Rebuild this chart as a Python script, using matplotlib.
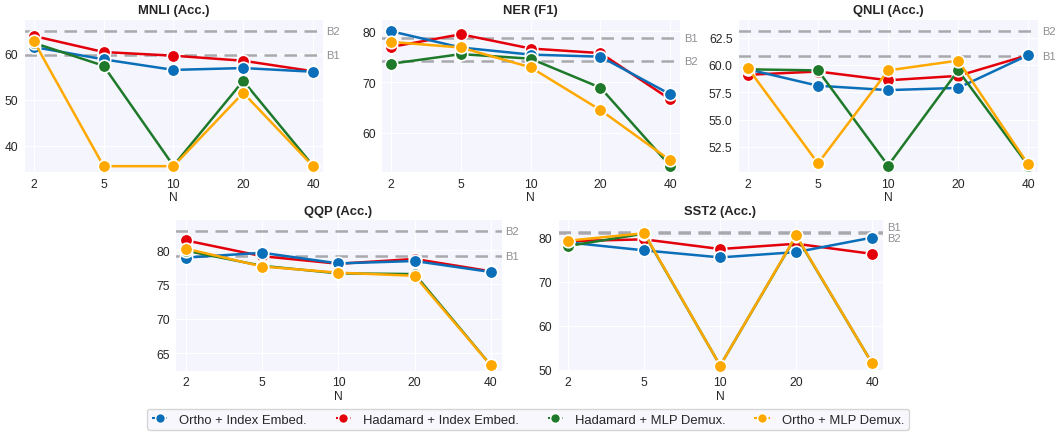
import matplotlib
matplotlib.use("Agg")
import matplotlib.pyplot as plt
import seaborn as sns

sns.set_style("darkgrid", {"axes.facecolor": "#F5F6FD", "grid.color": "white"})
plt.rcParams['font.family'] = ['Liberation Sans', 'DejaVu Sans']

n_vals = ["2", "5", "10", "20", "40"]
methods = ["Ortho + Index Embed.", "Hadamard + Index Embed.",
           "Hadamard + MLP Demux.", "Ortho + MLP Demux."]
colors = ["#0B6EB8", "#E3000B", "#1E7A2A", "#FFA800"]
layer = [3, 2, 4, 5]  # drawing order: red under blue, orange on top

mnli = [[61.5, 58.8, 56.5, 56.9, 56.1],
        [63.9, 60.4, 59.6, 58.5, 56.2],
        [62.4, 57.4, 35.6, 54.1, 35.6],
        [62.8, 35.5, 35.5, 51.5, 35.5]]
ner = [[80.0, 76.8, 75.4, 75.0, 67.6],
       [76.9, 79.4, 76.6, 75.7, 66.6],
       [73.6, 75.5, 74.6, 68.9, 53.5],
       [77.9, 76.8, 72.9, 64.5, 54.6]]
qnli = [[59.6, 58.1, 57.7, 57.9, 60.9],
        [59.1, 59.4, 58.6, 59.0, 60.9],
        [59.6, 59.5, 50.8, 59.5, 50.8],
        [59.7, 51.0, 59.5, 60.4, 50.9]]
qqp = [[78.9, 79.6, 78.05, 78.4, 76.8],
       [81.4, 79.1, 78.0, 78.7, 76.9],
       [79.9, 77.7, 76.6, 76.5, 63.2],
       [80.2, 77.6, 76.7, 76.25, 63.2]]
sst2 = [[78.9, 77.1, 75.5, 76.7, 80.0],
        [79.2, 79.6, 77.4, 78.6, 76.3],
        [78.1, 80.9, 50.9, 80.4, 51.4],
        [79.3, 81.0, 50.9, 80.5, 51.4]]

# baselines (B1, B2)
base_mnli = [59.8, 64.9]
base_ner = [78.7, 74.2]
base_qnli = [60.86, 63.1]
base_qqp = [79.1, 82.8]
base_sst2 = [81.3, 81.15]

panels = [
    ("MNLI (Acc.)", mnli, base_mnli, [0.0227, 0.602, 0.283, 0.352], (34.2, 67.6), [40, 50, 60], None),
    ("NER (F1)", ner, base_ner, [0.361, 0.602, 0.283, 0.352], (52.3, 82.4), [60, 70, 80], None),
    ("QNLI (Acc.)", qnli, base_qnli, [0.699, 0.602, 0.284, 0.352], (50.2, 64.2), [52.5, 55.0, 57.5, 60.0, 62.5], "%.1f"),
    ("QQP (Acc.)", qqp, base_qqp, [0.166, 0.145, 0.309, 0.349], (62.4, 84.5), [65, 70, 75, 80], None),
    ("SST2 (Acc.)", sst2, base_sst2, [0.528, 0.145, 0.308, 0.349], (49.7, 84.2), [50, 60, 70, 80], None),
]

fig = plt.figure(figsize=(10.56, 4.35), dpi=100)
x = range(len(n_vals))
for title, data, base, pos, ylim, yticks, fmt in panels:
    ax = fig.add_axes(pos)
    for i in range(len(methods)):
        ax.plot(x, data[i], color=colors[i], lw=1.8, marker="o", ms=9,
                markeredgecolor="white", markeredgewidth=1.2, label=methods[i],
                zorder=layer[i])
    for j, b in enumerate(base):
        ax.axhline(b, color="#A9A9AD", ls="--", lw=1.8, dashes=(5, 3), zorder=1)
        off = 0
        if title == "SST2 (Acc.)":
            off = 1.0 if j == 0 else -1.3
        ax.text(1.012, b + off, "B%d" % (j + 1), transform=ax.get_yaxis_transform(),
                color="#8E8E93", fontsize=8, va="center", ha="left")
    ax.set_xticks(list(x))
    ax.set_xticklabels(n_vals)
    ax.set_xlim(-0.14, 4.14)
    ax.set_ylim(*ylim)
    ax.set_yticks(yticks)
    if fmt:
        ax.set_yticklabels([fmt % t for t in yticks])
    ax.tick_params(labelsize=8.7, length=0, pad=4, colors="#262626")
    ax.set_xlabel("N", fontsize=8.7, labelpad=1)
    ax.set_title(title, fontsize=9.4, fontweight="bold", pad=4)

leg_handles = [plt.Line2D([0], [0], color=c, ls=(0, (2, 1.5)), lw=1.5, marker="o", ms=7,
                          markeredgecolor="white") for c in colors]
fig.legend(leg_handles, methods, loc="lower center", bbox_to_anchor=(0.5, -0.006), ncol=4,
           fontsize=9.4, frameon=True, edgecolor="#CCCCCC", handlelength=1.2,
           handletextpad=0.9, columnspacing=2.2, borderpad=0.35)

fig.savefig("out.png", dpi=100)
